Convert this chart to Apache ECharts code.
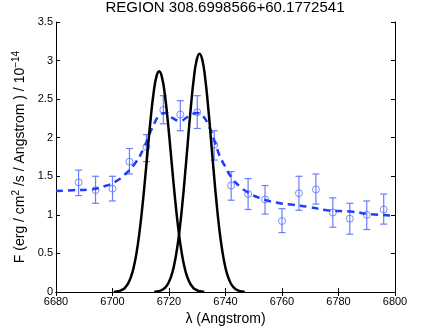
<!DOCTYPE html>
<html>
<head>
<meta charset="utf-8">
<script src="https://cdn.jsdelivr.net/npm/echarts@6/dist/echarts.min.js"></script>
<style>html,body{margin:0;padding:0;background:#fff}#c{width:436px;height:332px}</style>
</head>
<body>
<div id="c"></div>
<script>
// Observed points with error bars
var obsX  = [6688,6694,6700,6706,6712,6718,6724,6730,6736,6742,6748,6754,6760,6766,6772,6778,6784,6790,6796];
var obsY  = [1.42,1.32,1.34,1.69,1.88,2.36,2.30,2.33,1.91,1.38,1.27,1.20,0.92,1.28,1.33,1.03,0.95,1.00,1.07];
var obsLo = [1.25,1.15,1.18,1.53,1.69,2.18,2.09,2.12,1.71,1.19,1.07,1.01,0.77,1.06,1.14,0.84,0.75,0.81,0.88];
var obsHi = [1.58,1.50,1.50,1.86,2.04,2.545,2.48,2.545,2.09,1.56,1.47,1.38,1.08,1.50,1.53,1.22,1.15,1.18,1.27];

// Dashed blue fit
var fitX = [6680,6686,6692,6697,6701,6704,6708,6711,6714,6717,6719,6721,6724,6727,6730,6732,6734,6736,6738,6740,6742,6745,6748,6752,6758,6764,6770,6776,6785,6791,6800];
var fitY = [1.31,1.32,1.33,1.37,1.43,1.51,1.67,1.86,2.12,2.30,2.32,2.26,2.22,2.28,2.32,2.28,2.16,1.97,1.76,1.62,1.49,1.37,1.29,1.22,1.16,1.13,1.10,1.06,1.04,1.01,0.99];

// Black line profile 1
var line1X = [6700.5,6701.5,6702.5,6703.5,6704.5,6705.5,6706.5,6707.5,6708.5,6709.5,6710.5,6711.5,6712.5,6713.5,6714.5,6715.5,6716.5,6717.5,6718.5,6719.5,6720.5,6721.5,6722.5,6723.5,6724.5,6725.5,6726.5,6727.5,6728.5,6729.5,6730.5,6731.5,6732.5];
var line1Y = [0.003,0.007,0.014,0.030,0.058,0.108,0.191,0.320,0.507,0.760,1.080,1.455,1.856,2.242,2.567,2.784,2.860,2.784,2.567,2.242,1.856,1.455,1.080,0.760,0.507,0.320,0.191,0.108,0.058,0.030,0.014,0.007,0.003];
// Black line profile 2
var line2X = [6714.8,6715.8,6716.8,6717.8,6718.8,6719.8,6720.8,6721.8,6722.8,6723.8,6724.8,6725.8,6726.8,6727.8,6728.8,6729.8,6730.8,6731.8,6732.8,6733.8,6734.8,6735.8,6736.8,6737.8,6738.8,6739.8,6740.8,6741.8,6742.8,6743.8,6744.8,6745.8,6746.8];
var line2Y = [0.003,0.007,0.015,0.032,0.063,0.117,0.207,0.346,0.548,0.821,1.167,1.572,2.005,2.423,2.773,3.008,3.090,3.008,2.773,2.423,2.005,1.572,1.167,0.821,0.548,0.346,0.207,0.117,0.063,0.032,0.015,0.007,0.003];

var xTicks = {min: 6680, max: 6800, interval: 20};
var yTicks = {min: 0, max: 3.5, interval: 0.5};

function zip(a, b) { return a.map(function (v, i) { return [v, b[i]]; }); }
var errData = obsX.map(function (x, i) { return [x, obsLo[i], obsHi[i]]; });

var FONT = 'Liberation Sans';
var chart = echarts.init(document.getElementById('c'), null, {renderer: 'canvas'});
var axLine = {show: true, lineStyle: {color: '#000', width: 1}};
chart.setOption({
  animation: false,
  backgroundColor: '#fff',
  title: {
    text: 'REGION 308.6998566+60.1772541',
    left: 225, textAlign: 'center', top: 0, padding: 0,
    textStyle: {fontFamily: FONT, fontSize: 15, fontWeight: 'normal', color: '#000'}
  },
  grid: {left: 56, right: 41, top: 22, bottom: 40, containLabel: false},
  xAxis: [{
    type: 'value', min: xTicks.min, max: xTicks.max, interval: xTicks.interval,
    axisLine: axLine, axisTick: {inside: true, length: 4, lineStyle: {color: '#000'}},
    splitLine: {show: false},
    axisLabel: {fontFamily: FONT, fontSize: 11, color: '#000', margin: 4,
      formatter: function (v) { return String(v); }},
    name: 'λ (Angstrom)', nameLocation: 'middle', nameGap: 20,
    nameTextStyle: {fontFamily: FONT, fontSize: 14, color: '#000'}
  }, {
    type: 'value', position: 'top', min: xTicks.min, max: xTicks.max, interval: xTicks.interval,
    axisLine: axLine, axisTick: {inside: true, length: 4, lineStyle: {color: '#000'}},
    splitLine: {show: false}, axisLabel: {show: false}
  }],
  yAxis: [{
    type: 'value', min: yTicks.min, max: yTicks.max, interval: yTicks.interval,
    axisLine: axLine, axisTick: {inside: true, length: 4, lineStyle: {color: '#000'}},
    splitLine: {show: false},
    axisLabel: {fontFamily: FONT, fontSize: 11, color: '#000', margin: 3},
    name: 'F (erg / cm{sup|2} /s / Angstrom ) / 10{sup|−14}', nameLocation: 'middle', nameGap: 24,
    nameTextStyle: {fontFamily: FONT, fontSize: 14, color: '#000',
      rich: {sup: {fontFamily: FONT, fontSize: 10, color: '#000', verticalAlign: 'top', padding: [0, 0, 8, 0]}}}
  }, {
    type: 'value', position: 'right', min: yTicks.min, max: yTicks.max, interval: yTicks.interval,
    axisLine: axLine, axisTick: {inside: true, length: 4, lineStyle: {color: '#000'}},
    splitLine: {show: false}, axisLabel: {show: false}
  }],
  series: [{
    type: 'custom', z: 2,
    renderItem: function (params, api) {
      var x = api.value(0);
      var lo = api.coord([x, api.value(1)]);
      var hi = api.coord([x, api.value(2)]);
      var w = 3.5;
      var st = {stroke: '#6a7dff', lineWidth: 1.2};
      return {type: 'group', children: [
        {type: 'line', shape: {x1: lo[0], y1: lo[1], x2: hi[0], y2: hi[1]}, style: st},
        {type: 'line', shape: {x1: lo[0] - w, y1: lo[1], x2: lo[0] + w, y2: lo[1]}, style: st},
        {type: 'line', shape: {x1: hi[0] - w, y1: hi[1], x2: hi[0] + w, y2: hi[1]}, style: st}
      ]};
    },
    encode: {x: 0, y: [1, 2]},
    data: errData
  }, {
    type: 'scatter', z: 3, symbol: 'circle', symbolSize: 7,
    itemStyle: {color: 'rgba(0,0,0,0)', borderColor: '#5a6eff', borderWidth: 1},
    data: zip(obsX, obsY)
  }, {
    type: 'line', z: 4, smooth: true, showSymbol: false,
    lineStyle: {color: '#1f3dff', width: 2.5, type: [7, 5]},
    data: zip(fitX, fitY)
  }, {
    type: 'line', z: 5, smooth: true, showSymbol: false,
    lineStyle: {color: '#000', width: 2.5},
    data: zip(line1X, line1Y)
  }, {
    type: 'line', z: 5, smooth: true, showSymbol: false,
    lineStyle: {color: '#000', width: 2.5},
    data: zip(line2X, line2Y)
  }]
});
</script>
</body>
</html>
